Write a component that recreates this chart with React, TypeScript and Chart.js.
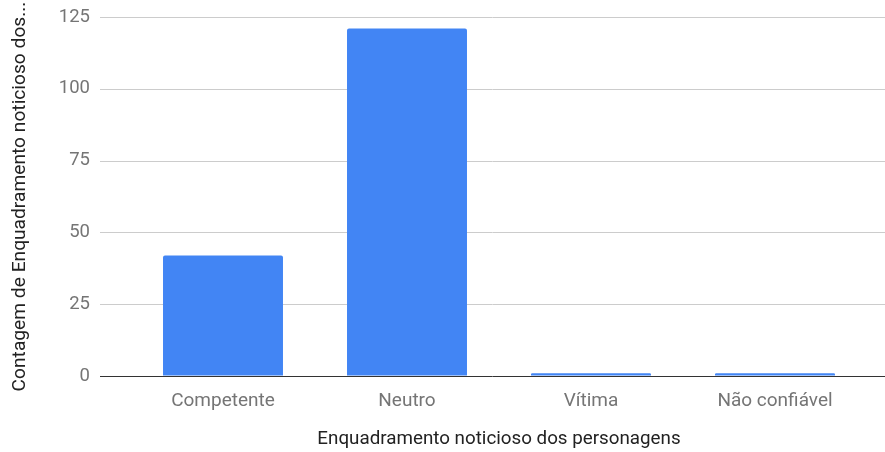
import React, { useEffect, useRef } from "react";
import { Chart, registerables } from "chart.js";

Chart.register(...registerables);

const categories = ["Competente", "Neutro", "Vítima", "Não confiável"];
const counts = [42, 121, 1, 1];
const yTicks = [0, 25, 50, 75, 100, 125];

const xTitle = "Enquadramento noticioso dos personagens";
const yTitle = "Contagem de Enquadramento noticioso dos...";

const FONT = "Roboto, 'Noto Sans', sans-serif";

// Horizontal gridlines that run past both sides of the plot area
const gridPlugin = {
  id: "wideGrid",
  beforeDatasetsDraw(chart: any) {
    const { ctx, chartArea, scales } = chart;
    const y = scales.y;
    ctx.save();
    ctx.lineWidth = 1;
    ctx.strokeStyle = "#cccccc";
    y.ticks.forEach((t: any) => {
      if (t.value === 0) return;
      const py = Math.round(y.getPixelForValue(t.value)) + 0.5;
      ctx.beginPath();
      ctx.moveTo(chartArea.left - 31, py);
      ctx.lineTo(chartArea.right + 18, py);
      ctx.stroke();
    });
    ctx.restore();
  },
  afterDatasetsDraw(chart: any) {
    const { ctx, chartArea, scales } = chart;
    const py = Math.round(scales.y.getPixelForValue(0)) + 0.5;
    ctx.save();
    ctx.lineWidth = 1;
    ctx.strokeStyle = "#333333";
    ctx.beginPath();
    ctx.moveTo(chartArea.left - 31, py);
    ctx.lineTo(chartArea.right + 18, py);
    ctx.stroke();
    ctx.restore();
  },
};

export default function App() {
  const ref = useRef<HTMLCanvasElement | null>(null);

  useEffect(() => {
    if (!ref.current) return;
    const chart = new Chart(ref.current, {
      type: "bar",
      data: {
        labels: categories,
        datasets: [
          {
            data: counts,
            backgroundColor: "#4285F4",
            borderRadius: 2,
            borderSkipped: "bottom",
            barPercentage: 0.652,
            categoryPercentage: 1,
          },
        ],
      },
      options: {
        responsive: false,
        animation: false,
        maintainAspectRatio: false,
        layout: { padding: { top: 17, right: 18, bottom: 0, left: 0 } },
        plugins: {
          legend: { display: false },
          tooltip: { enabled: false },
        },
        scales: {
          x: {
            grid: { display: false },
            border: { display: false },
            ticks: {
              color: "#757575",
              font: { family: FONT, size: 19 },
              padding: 6,
              maxRotation: 0,
            },
            title: {
              display: true,
              text: xTitle,
              color: "#222222",
              font: { family: FONT, size: 18.8 },
              padding: { top: 0, bottom: 1 },
            },
            afterFit: (s: any) => {
              s.height = 452 - 376;
            },
          },
          y: {
            min: 0,
            max: 125,
            afterBuildTicks: (s: any) => {
              s.ticks = yTicks.map((v) => ({ value: v }));
            },
            grid: {
              display: true,
              color: "rgba(0,0,0,0)",
              drawTicks: true,
              tickLength: 41,
            },
            border: { display: false },
            ticks: {
              color: "#757575",
              font: { family: FONT, size: 18.5 },
              padding: 0,
            },
            title: {
              display: true,
              text: yTitle,
              color: "#222222",
              font: { family: FONT, size: 19.2 },
              padding: { top: 9, bottom: 0 },
            },
            afterFit: (s: any) => {
              s.width = 131;
            },
          },
        },
      },
      plugins: [gridPlugin],
    });
    return () => chart.destroy();
  }, []);

  return (
    <div style={{ position: "fixed", left: 0, top: 0, width: 885, height: 452, background: "#ffffff" }}>
      <canvas ref={ref} width={885} height={452} style={{ width: 885, height: 452 }} />
    </div>
  );
}
